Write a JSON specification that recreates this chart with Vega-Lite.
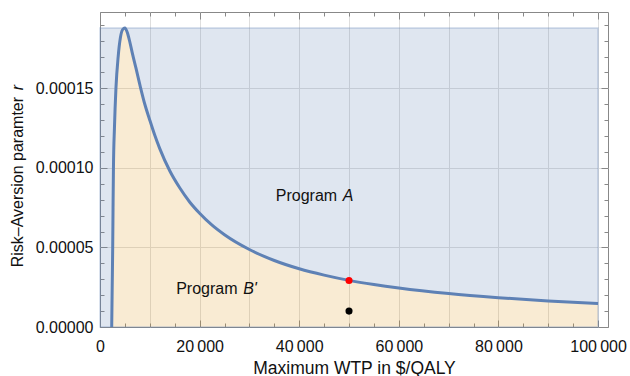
{
  "$schema": "https://vega.github.io/schema/vega-lite/v6.json",
  "width": 508,
  "height": 315,
  "autosize": "none",
  "padding": {"left": 100, "top": 12, "right": 22, "bottom": 49},
  "background": "white",
  "config": {
    "view": {"stroke": "#888888", "strokeWidth": 1},
    "font": "Liberation Sans",
    "axis": {"labelFont": "Liberation Sans", "labelFontSize": 16, "labelColor": "#111111", "titleFont": "Liberation Sans", "titleFontSize": 17.5, "titleFontWeight": "normal", "titleColor": "#111111", "domain": false, "tickColor": "#888888", "gridColor": "#dedede", "gridWidth": 1}
  },
  "datasets": {
    "curve": [
      {"wtp": 2350, "r": 0},
      {"wtp": 2450, "r": 0.000025},
      {"wtp": 2550, "r": 0.00005},
      {"wtp": 2620, "r": 0.000075},
      {"wtp": 2700, "r": 0.0001},
      {"wtp": 2900, "r": 0.000125},
      {"wtp": 3200, "r": 0.00015},
      {"wtp": 3650, "r": 0.00017},
      {"wtp": 4100, "r": 0.000182},
      {"wtp": 4550, "r": 0.000187},
      {"wtp": 5000, "r": 0.000188},
      {"wtp": 5500, "r": 0.000185},
      {"wtp": 6000, "r": 0.000179},
      {"wtp": 6500, "r": 0.000172},
      {"wtp": 7200, "r": 0.000163},
      {"wtp": 8100, "r": 0.000151},
      {"wtp": 9000, "r": 0.00014},
      {"wtp": 10000, "r": 0.00013},
      {"wtp": 11000, "r": 0.0001205},
      {"wtp": 12000, "r": 0.0001121},
      {"wtp": 14000, "r": 0.0000982},
      {"wtp": 16000, "r": 0.0000875},
      {"wtp": 18000, "r": 0.0000786},
      {"wtp": 20000, "r": 0.0000715},
      {"wtp": 22500, "r": 0.000064},
      {"wtp": 25000, "r": 0.000058},
      {"wtp": 30000, "r": 0.0000487},
      {"wtp": 35000, "r": 0.0000418},
      {"wtp": 40000, "r": 0.0000366},
      {"wtp": 45000, "r": 0.0000326},
      {"wtp": 50000, "r": 0.0000293},
      {"wtp": 55000, "r": 0.0000267},
      {"wtp": 60000, "r": 0.0000245},
      {"wtp": 70000, "r": 0.000021},
      {"wtp": 80000, "r": 0.0000184},
      {"wtp": 90000, "r": 0.0000163},
      {"wtp": 100000, "r": 0.0000147}
    ],
    "blue": [
      {"wtp": 0, "r": 0},
      {"wtp": 2350, "r": 0},
      {"wtp": 2450, "r": 0.000025},
      {"wtp": 2550, "r": 0.00005},
      {"wtp": 2620, "r": 0.000075},
      {"wtp": 2700, "r": 0.0001},
      {"wtp": 2900, "r": 0.000125},
      {"wtp": 3200, "r": 0.00015},
      {"wtp": 3650, "r": 0.00017},
      {"wtp": 4100, "r": 0.000182},
      {"wtp": 4550, "r": 0.000187},
      {"wtp": 5000, "r": 0.000188},
      {"wtp": 5500, "r": 0.000185},
      {"wtp": 6000, "r": 0.000179},
      {"wtp": 6500, "r": 0.000172},
      {"wtp": 7200, "r": 0.000163},
      {"wtp": 8100, "r": 0.000151},
      {"wtp": 9000, "r": 0.00014},
      {"wtp": 10000, "r": 0.00013},
      {"wtp": 11000, "r": 0.0001205},
      {"wtp": 12000, "r": 0.0001121},
      {"wtp": 14000, "r": 0.0000982},
      {"wtp": 16000, "r": 0.0000875},
      {"wtp": 18000, "r": 0.0000786},
      {"wtp": 20000, "r": 0.0000715},
      {"wtp": 22500, "r": 0.000064},
      {"wtp": 25000, "r": 0.000058},
      {"wtp": 30000, "r": 0.0000487},
      {"wtp": 35000, "r": 0.0000418},
      {"wtp": 40000, "r": 0.0000366},
      {"wtp": 45000, "r": 0.0000326},
      {"wtp": 50000, "r": 0.0000293},
      {"wtp": 55000, "r": 0.0000267},
      {"wtp": 60000, "r": 0.0000245},
      {"wtp": 70000, "r": 0.000021},
      {"wtp": 80000, "r": 0.0000184},
      {"wtp": 90000, "r": 0.0000163},
      {"wtp": 100000, "r": 0.0000147}
    ],
    "points": [
      {"wtp": 50000, "r": 0.0000292, "kind": "threshold"},
      {"wtp": 50000, "r": 0.00001, "kind": "example"}
    ],
    "labels": [
      {"wtp": 35300, "r": 0.0000791, "main": "Program ", "ital": "A"},
      {"wtp": 15300, "r": 0.0000210, "main": "Program ", "ital": "B'"}
    ],
    "ytitle": [
      {"wtp": -16500, "r": 0.0000375, "main": "Risk–Aversion paramter", "ital": "r"}
    ]
  },
  "resolve": {"axis": {"x": "independent", "y": "independent"}},
  "layer": [
    {
      "data": {"name": "blue"},
      "mark": {"type": "area", "interpolate": "monotone", "color": "#5e81b5", "opacity": 0.2},
      "encoding": {
        "x": {"field": "wtp", "type": "quantitative", "scale": {"domain": [0, 102000], "nice": false}, "title": "Maximum WTP in $/QALY",
          "axis": {"values": [0,5000,10000,15000,20000,25000,30000,35000,40000,45000,50000,55000,60000,65000,70000,75000,80000,85000,90000,95000,100000],
            "labelExpr": "datum.value % 20000 === 0 ? (datum.value === 0 ? '0' : replace(format(datum.value, ','), ',', '\u2009')) : ''",
            "tickSize": {"condition": {"test": "datum.value % 20000 === 0", "value": -7}, "value": -4},
            "gridOpacity": {"condition": {"test": "datum.value % 10000 === 0 && datum.value > 0", "value": 1}, "value": 0},
            "labelPadding": 18, "titlePadding": 2, "labelFlush": false, "labelOverlap": false}},
        "y": {"field": "r", "type": "quantitative", "scale": {"domain": [0, 0.000198], "nice": false},
          "axis": {"title": null, "values": [0,0.00001,0.00002,0.00003,0.00004,0.00005,0.00006,0.00007,0.00008,0.00009,0.0001,0.00011,0.00012,0.00013,0.00014,0.00015,0.00016,0.00017,0.00018,0.00019],
            "labelExpr": "abs(datum.value / 0.00005 - round(datum.value / 0.00005)) < 0.001 ? format(datum.value, '.5f') : ''",
            "tickSize": {"condition": {"test": "abs(datum.value / 0.00005 - round(datum.value / 0.00005)) < 0.001", "value": -7}, "value": -4},
            "gridOpacity": {"condition": {"test": "abs(datum.value / 0.00005 - round(datum.value / 0.00005)) < 0.001 && datum.value > 0", "value": 1}, "value": 0},
            "labelPadding": 14, "labelOverlap": false}},
        "y2": {"datum": 0.000188}
      }
    },
    {
      "data": {"name": "curve"},
      "mark": {"type": "area", "interpolate": "monotone", "color": "#e19c24", "opacity": 0.2},
      "encoding": {
        "x": {"field": "wtp", "type": "quantitative", "axis": {"orient": "top", "values": [0,5000,10000,15000,20000,25000,30000,35000,40000,45000,50000,55000,60000,65000,70000,75000,80000,85000,90000,95000,100000], "labels": false, "grid": false, "title": null,
            "tickSize": {"condition": {"test": "datum.value % 20000 === 0", "value": -7}, "value": -4}}},
        "y": {"field": "r", "type": "quantitative", "axis": {"orient": "right", "values": [0,0.00001,0.00002,0.00003,0.00004,0.00005,0.00006,0.00007,0.00008,0.00009,0.0001,0.00011,0.00012,0.00013,0.00014,0.00015,0.00016,0.00017,0.00018,0.00019], "labels": false, "grid": false, "title": null,
            "tickSize": {"condition": {"test": "abs(datum.value / 0.00005 - round(datum.value / 0.00005)) < 0.001", "value": -7}, "value": -4}}}
      }
    },
    {
      "mark": {"type": "rect", "fill": null, "stroke": "#5e81b5", "strokeOpacity": 0.3, "strokeWidth": 1.5},
      "data": {"values": [{}]},
      "encoding": {
        "x": {"datum": 0, "type": "quantitative", "axis": null},
        "x2": {"datum": 100000},
        "y": {"datum": 0, "type": "quantitative", "axis": null},
        "y2": {"datum": 0.000188}
      }
    },
    {
      "data": {"name": "curve"},
      "mark": {"type": "line", "interpolate": "monotone", "color": "#5e81b5", "strokeWidth": 3},
      "encoding": {
        "x": {"field": "wtp", "type": "quantitative", "axis": null},
        "y": {"field": "r", "type": "quantitative", "axis": null}
      }
    },
    {
      "data": {"name": "points"},
      "mark": {"type": "circle", "size": 50, "opacity": 1},
      "encoding": {
        "x": {"field": "wtp", "type": "quantitative", "axis": null},
        "y": {"field": "r", "type": "quantitative", "axis": null},
        "color": {"field": "kind", "type": "nominal", "scale": {"domain": ["threshold", "example"], "range": ["#ff0000", "#000000"]}, "legend": null}
      }
    },
    {
      "data": {"name": "labels"},
      "mark": {"type": "text", "align": "left", "baseline": "alphabetic", "fontSize": 16, "color": "#111111"},
      "encoding": {
        "x": {"field": "wtp", "type": "quantitative", "axis": null},
        "y": {"field": "r", "type": "quantitative", "axis": null},
        "text": {"field": "main"}
      }
    },
    {
      "data": {"name": "labels"},
      "mark": {"type": "text", "align": "left", "baseline": "alphabetic", "fontSize": 16, "fontStyle": "italic", "color": "#111111", "dx": 67},
      "encoding": {
        "x": {"field": "wtp", "type": "quantitative", "axis": null},
        "y": {"field": "r", "type": "quantitative", "axis": null},
        "text": {"field": "ital"}
      }
    },
    {
      "data": {"name": "ytitle"},
      "mark": {"type": "text", "align": "left", "baseline": "middle", "angle": 270, "fontSize": 16, "color": "#111111"},
      "encoding": {
        "x": {"field": "wtp", "type": "quantitative", "axis": null},
        "y": {"field": "r", "type": "quantitative", "axis": null},
        "text": {"field": "main"}
      }
    },
    {
      "data": {"name": "ytitle"},
      "mark": {"type": "text", "align": "left", "baseline": "middle", "angle": 270, "fontSize": 16, "fontStyle": "italic", "color": "#111111", "dx": 177},
      "encoding": {
        "x": {"field": "wtp", "type": "quantitative", "axis": null},
        "y": {"field": "r", "type": "quantitative", "axis": null},
        "text": {"field": "ital"}
      }
    }
  ]
}
